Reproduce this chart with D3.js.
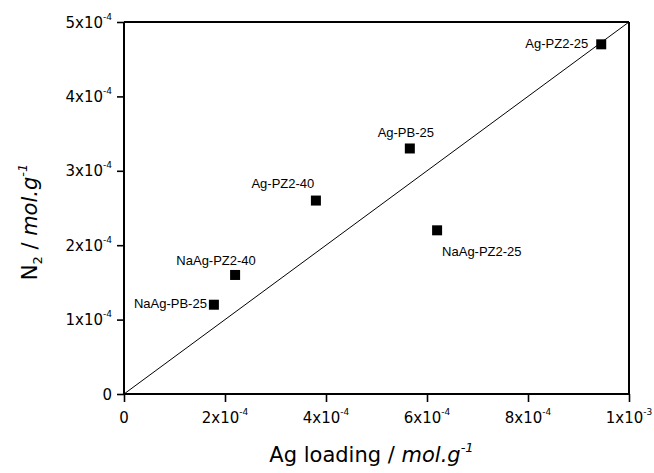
<!DOCTYPE html>
<html><head><meta charset="utf-8">
<script src="https://cdn.jsdelivr.net/npm/d3@7"></script>
<style>body{margin:0;background:#fff}</style>
</head><body>
<svg id="chart" width="654" height="473"></svg>
<script>
// ---- data ----
const samples   = ["Ag-PZ2-25", "Ag-PB-25", "Ag-PZ2-40", "NaAg-PZ2-25", "NaAg-PZ2-40", "NaAg-PB-25"];
const agLoading = [9.45e-4, 5.66e-4, 3.80e-4, 6.20e-4, 2.20e-4, 1.78e-4];
const n2Uptake  = [4.70e-4, 3.30e-4, 2.60e-4, 2.20e-4, 1.60e-4, 1.20e-4];
const xTicks = [0, 2e-4, 4e-4, 6e-4, 8e-4, 1e-3];
const yTicks = [0, 1e-4, 2e-4, 3e-4, 4e-4, 5e-4];
const xMinor = [1e-4, 3e-4, 5e-4, 7e-4, 9e-4];
const yMinor = [0.5e-4, 1.5e-4, 2.5e-4, 3.5e-4, 4.5e-4];
const refLine = [[0, 0], [1e-3, 5e-4]];

// ---- layout ----
const labelLayout = [
  {dx: -13, dy: 4,   anchor: "end"},
  {dx: -4,  dy: -11, anchor: "middle"},
  {dx: -33, dy: -13, anchor: "middle"},
  {dx: 5,   dy: 26,  anchor: "start"},
  {dx: -19, dy: -10, anchor: "middle"},
  {dx: -7,  dy: 3,   anchor: "end"}
];
const L = 124, R = 629, T = 22, B = 394;
const svg = d3.select("#chart");
const x = d3.scaleLinear().domain([0, 1e-3]).range([L, R]);
const y = d3.scaleLinear().domain([0, 5e-4]).range([B, T]);
const tickFont = "DejaVu Sans, Verdana, sans-serif";

function sciLabel(sel, v) {
  sel.text(null);
  if (v === 0) { sel.append("tspan").text("0"); return; }
  const e = Math.floor(Math.log10(v) + 1e-9);
  const m = Math.round(v / Math.pow(10, e));
  sel.append("tspan").text(m + "x10");
  sel.append("tspan").attr("font-size", 9).attr("dy", -8).text(String(e));
}

// frame (top/right)
svg.append("line").attr("x1", L).attr("x2", R).attr("y1", T).attr("y2", T)
  .attr("stroke", "#000").attr("stroke-width", 2);
svg.append("line").attr("x1", R).attr("x2", R).attr("y1", T).attr("y2", B)
  .attr("stroke", "#000").attr("stroke-width", 2);

// x axis
const gx = svg.append("g").attr("transform", `translate(0,${B})`);
gx.call(d3.axisBottom(x).tickValues(xMinor).tickSize(4).tickFormat("").tickSizeOuter(0));
gx.call(d3.axisBottom(x).tickValues(xTicks).tickSize(8).tickFormat("").tickSizeOuter(0));
gx.selectAll("path.domain").attr("stroke-width", 2).attr("d", `M${L},0H${R}`);
gx.selectAll(".tick line").attr("stroke-width", 1.6);
gx.selectAll("text.lbl").data(xTicks).join("text").attr("class", "lbl")
  .attr("x", d => x(d)).attr("y", 29).attr("text-anchor", "middle")
  .attr("font-family", tickFont).attr("font-size", 15).attr("fill", "#000")
  .each(function (d) { sciLabel(d3.select(this), d); });

// y axis
const gy = svg.append("g").attr("transform", `translate(${L},0)`);
gy.call(d3.axisLeft(y).tickValues(yMinor).tickSize(4).tickFormat("").tickSizeOuter(0));
gy.call(d3.axisLeft(y).tickValues(yTicks).tickSize(7).tickFormat("").tickSizeOuter(0));
gy.selectAll("path.domain").attr("stroke-width", 2).attr("d", `M0,${B}V${T}`);
gy.selectAll(".tick line").attr("stroke-width", 1.6);
gy.selectAll("text.lbl").data(yTicks).join("text").attr("class", "lbl")
  .attr("x", -12).attr("y", d => y(d) + 5.5).attr("text-anchor", "end")
  .attr("font-family", tickFont).attr("font-size", 15).attr("fill", "#000")
  .each(function (d) { sciLabel(d3.select(this), d); });

// reference line
svg.append("path").datum(refLine)
  .attr("d", d3.line().x(d => x(d[0])).y(d => y(d[1])))
  .attr("stroke", "#000").attr("stroke-width", 1).attr("fill", "none");

// points
const pts = samples.map((s, i) => ({name: s, xv: agLoading[i], yv: n2Uptake[i], lay: labelLayout[i]}));
svg.selectAll("rect.pt").data(pts).join("rect").attr("class", "pt")
  .attr("x", d => x(d.xv) - 5).attr("y", d => y(d.yv) - 5)
  .attr("width", 10).attr("height", 10).attr("fill", "#000");
svg.selectAll("text.plab").data(pts).join("text").attr("class", "plab")
  .attr("x", d => x(d.xv) + d.lay.dx).attr("y", d => y(d.yv) + d.lay.dy)
  .attr("text-anchor", d => d.lay.anchor)
  .attr("font-family", "Liberation Sans, Arial, sans-serif").attr("font-size", 13)
  .attr("fill", "#000").text(d => d.name);

// axis titles
const xt = svg.append("text").attr("x", (L + R) / 2 - 5).attr("y", 462)
  .attr("text-anchor", "middle").attr("font-family", tickFont).attr("font-size", 21).attr("fill", "#000");
xt.append("tspan").text("Ag loading / ");
xt.append("tspan").attr("font-style", "italic").text("mol.g");
xt.append("tspan").attr("font-style", "italic").attr("font-size", 13).attr("dy", -10).text("-1");

const yt = svg.append("text").attr("transform", "translate(37,222) rotate(-90)")
  .attr("text-anchor", "middle").attr("font-family", tickFont).attr("font-size", 21).attr("fill", "#000");
yt.append("tspan").text("N");
yt.append("tspan").attr("font-size", 13).attr("dy", 5).text("2");
yt.append("tspan").attr("dy", -5).text(" / ");
yt.append("tspan").attr("font-style", "italic").text("mol.g");
yt.append("tspan").attr("font-style", "italic").attr("font-size", 13).attr("dy", -10).text("-1");
</script>
</body></html>
